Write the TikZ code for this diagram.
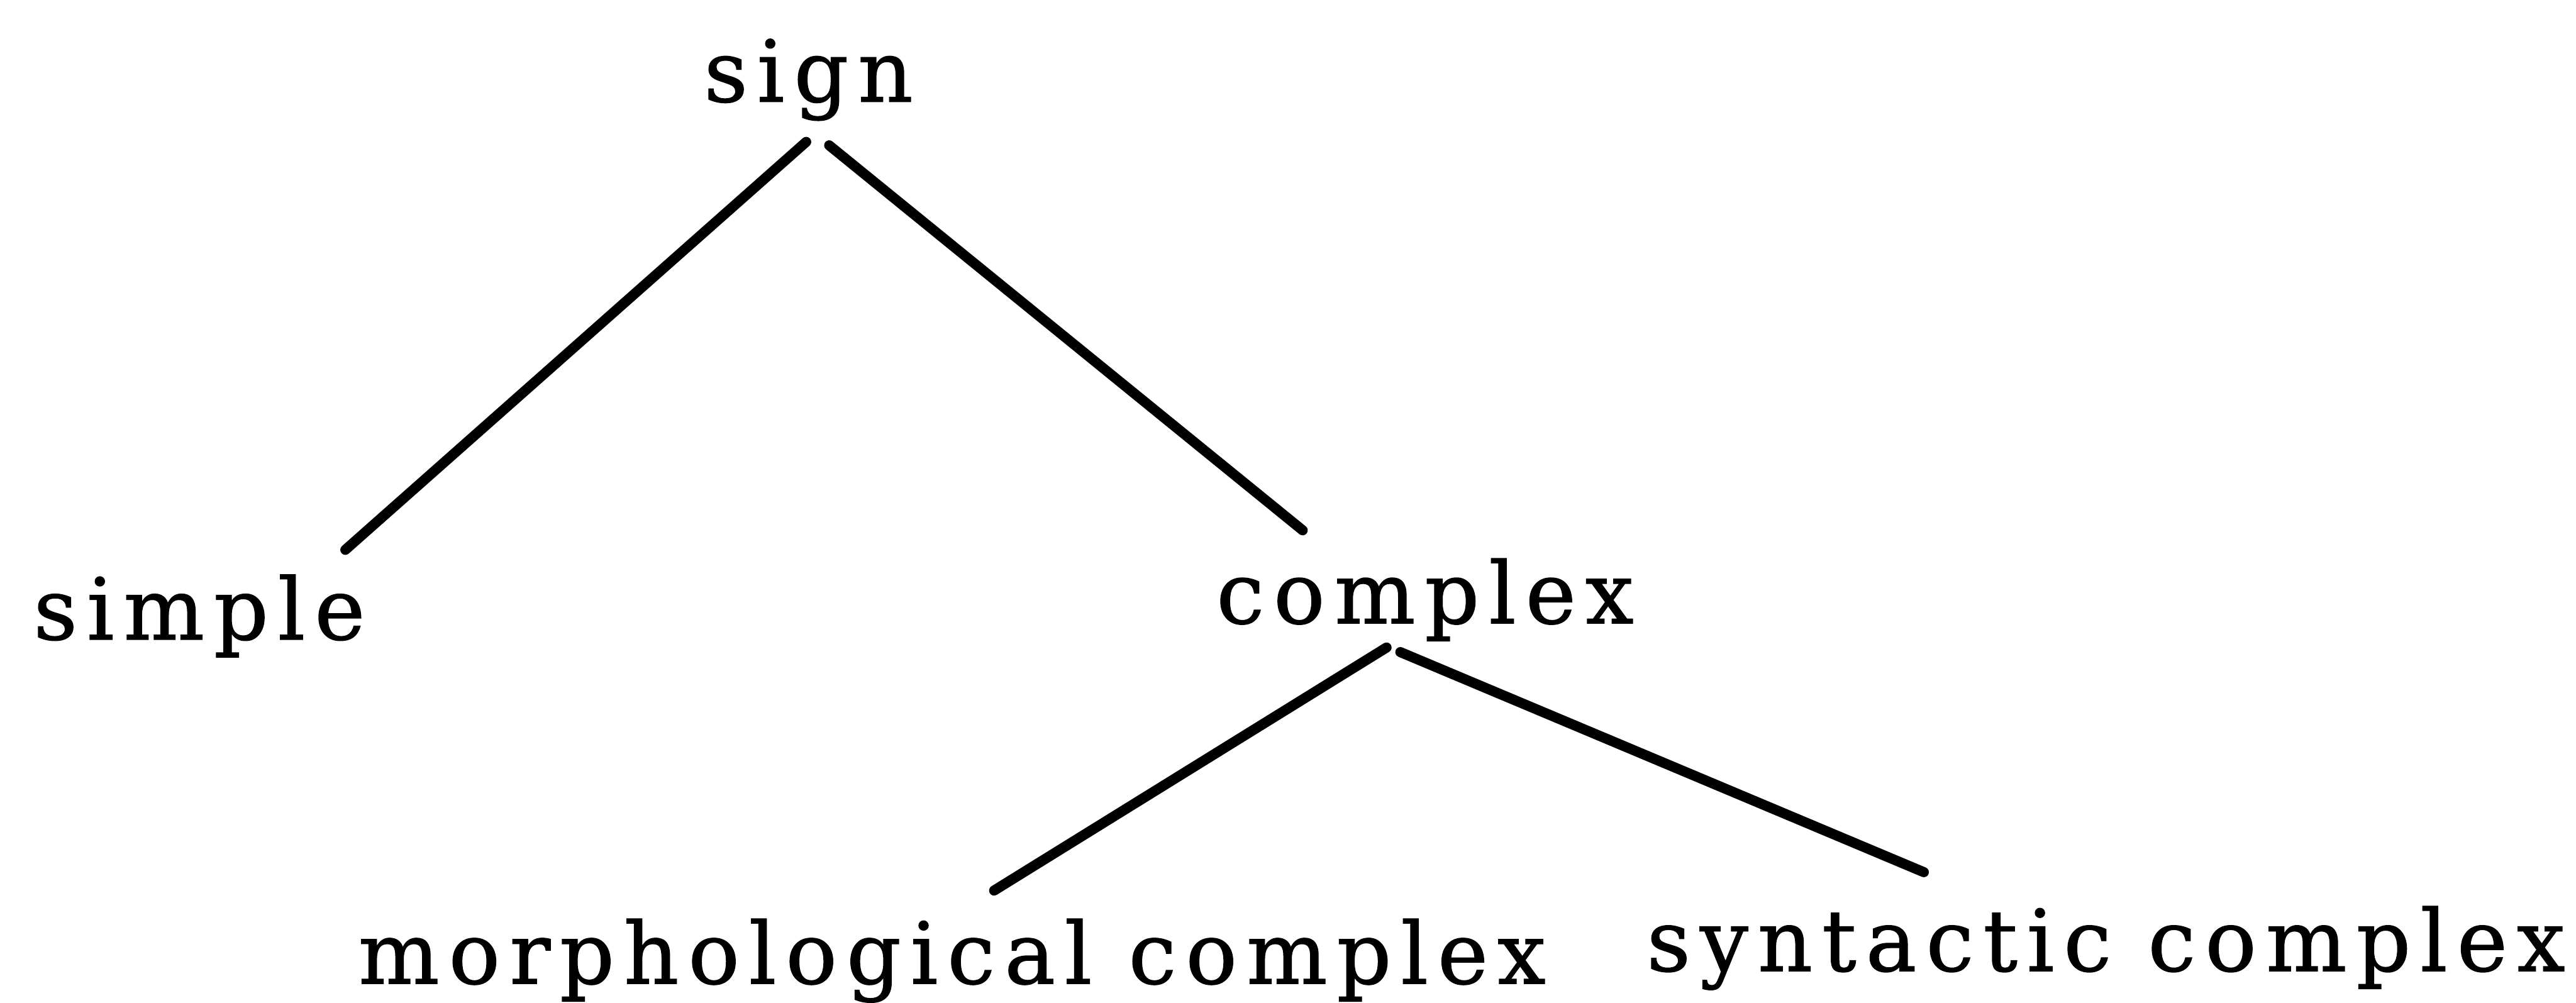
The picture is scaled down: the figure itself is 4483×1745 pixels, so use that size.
\documentclass[tikz,border=0pt]{standalone}
\usepackage{fontspec}
\setmainfont{DejaVu Serif}[LetterSpace=11,FakeBold=1]
\usetikzlibrary{calc}
\begin{document}
\begin{tikzpicture}[x=0.004cm,y=-0.004cm,
  lbl/.style={inner sep=0pt,anchor=base,font=\fontsize{16.9pt}{20pt}\selectfont},
  edge/.style={line width=2pt,line cap=round}]
\useasboundingbox (0,0) rectangle (4483,1745);
\node[lbl] (sign) at (1407,177) {sign};
\node[lbl] (simple) at (347,1113) {simple};
\node[lbl] (complex) at (2480,1085) {complex};
\node[lbl] (morph) at (1657,1712) {morphological complex};
\node[lbl] (synt) at (3665,1690) {syntactic complex};
\draw[edge] ([shift={(-4,70)}]sign.base) -- ([shift={(254,-156)}]simple.base);
\draw[edge] ([shift={(36,76)}]sign.base) -- ([shift={(-213,-162)}]complex.base);
\draw[edge] ([shift={(-67,42)}]complex.base) -- ([shift={(73,-162)}]morph.base);
\draw[edge] ([shift={(-43,50)}]complex.base) -- ([shift={(-317,-172)}]synt.base);
\end{tikzpicture}
\end{document}
